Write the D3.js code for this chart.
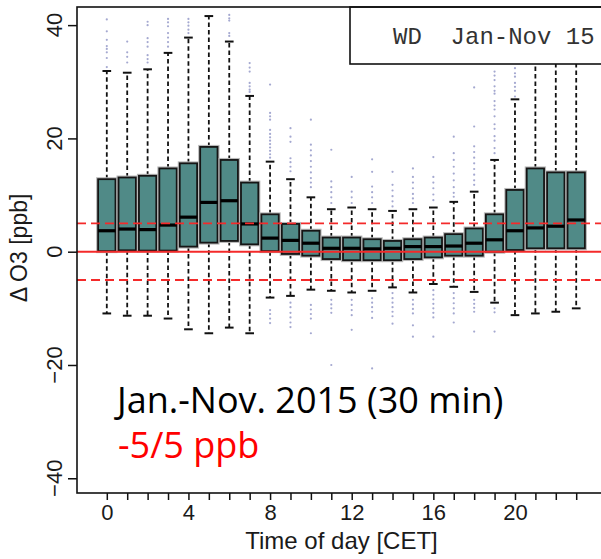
<!DOCTYPE html>
<html>
<head>
<meta charset="utf-8">
<script src="https://cdn.jsdelivr.net/npm/d3@7/dist/d3.min.js"></script>
<style>
  html, body { margin: 0; padding: 0; background: #fff; }
  svg { display: block; }
</style>
</head>
<body>
<svg id="chart" width="601" height="559"></svg>
<script>
// Diurnal distribution of ΔO3 (weekdays, Jan–Nov 2015), one box per hour
const hours = [0,1,2,3,4,5,6,7,8,9,10,11,12,13,14,15,16,17,18,19,20,21,22,23];
const whiskerLow  = [-10.9,-11.3,-11.3,-11.8,-13.7,-14.4,-13.4,-14.4,-8.1,-7.8,-6.7,-6.9,-7.2,-6.9,-6.3,-7.2,-5.7,-6.2,-7.1,-9.0,-11.2,-10.9,-10.6,-10.0];
const q1          = [0.1,0.25,0.2,0.2,0.9,1.6,1.9,1.3,0.1,-0.4,-0.7,-1.3,-1.5,-1.5,-1.5,-1.3,-1.0,-0.7,-0.7,0.0,0.3,0.6,0.6,0.6];
const median      = [3.7,4.0,3.9,4.7,6.1,8.7,9.0,4.9,2.4,2.0,1.5,0.6,0.6,0.5,0.6,0.9,0.9,1.0,1.5,2.1,3.7,4.2,4.5,5.6];
const q3          = [12.8,13.1,13.4,14.7,15.6,18.5,16.2,12.2,6.6,4.9,3.7,2.5,2.5,2.2,1.9,2.2,2.5,3.1,4.1,6.6,10.9,14.7,14.0,14.0];
const whiskerHigh = [31.9,31.6,32.2,35.1,37.8,41.6,37.1,27.5,15.9,12.8,9.6,7.5,7.8,7.5,7.2,7.5,7.8,8.8,10.6,16.2,26.9,36.0,35.0,34.0];
const outliers = [
  [41.0,38.9,37.4,36.3,35.8,35.2,34.2,32.6],
  [37.1,35.2,34.4,33.4],
  [40.6,40.0,37.7,37.0,36.2,34.7,34.0,33.4],
  [41.1,40.5,39.8,38.6,37.8,37.0,36.2],
  [41.1,40.5,39.9,39.2,38.6],
  [],
  [41.8,41.2,40.8,38.6,38.1],
  [33.3,32.5,31.8,29.8,29.2,28.6,28.2],
  [29.5,24.5,23.9,23.3,21.5,20.8,20.2,19.6,19.0,18.4,17.8,17.2,16.6,-10.3,-11.0,-11.8,-12.6],
  [21.8,20.3,19.4,16.5,15.8,15.0,14.2,-9.0,-9.8,-10.8,-11.6,-12.5,-13.3],
  [23.3,18.9,17.9,17.0,16.0,15.0,14.0,13.0,12.2,11.4,-9.4,-10.2,-11.0,-11.8,-14.4],
  [18.0,12.4,11.4,10.5,9.6,8.6,-8.5,-9.3,-10.0,-10.8,-20.0],
  [13.2,10.6,9.6,8.6,-8.5,-9.4,-10.3,-11.2,-13.8],
  [16.3,14.1,11.5,10.5,9.6,8.6,-8.2,-9.0,-9.8,-10.6,-11.7,-20.6],
  [14.1,11.8,10.8,9.8,8.9,8.0,-7.3,-8.2,-9.0,-9.8,-10.6,-11.4,-12.7],
  [14.7,13.2,12.2,11.2,10.2,9.4,8.6,-8.5,-9.3,-10.1,-10.9,-13.0,-15.0],
  [16.7,13.2,12.2,11.2,10.1,9.1,-6.8,-7.6,-8.4,-9.2,-10.0,-10.8,-11.6,-15.0],
  [20.3,17.4,16.2,15.0,13.8,12.6,11.4,10.4,9.7,-7.3,-8.2,-9.1,-10.0,-10.9,-12.5],
  [29.0,22.1,18.6,17.6,16.6,15.6,14.6,13.6,12.6,11.8,-8.5,-9.2,-9.9,-10.6,-14.1],
  [31.8,31.1,30.3,29.2,28.4,27.9,26.6,25.8,25.1,23.9,22.5,21.7,20.4,19.6,18.3,17.4,-10.0,-10.7,-14.1],
  [32.4,31.5,30.9,29.8,29.1,28.4,27.4],
  [],
  [],
  []
];
const yTicks = [-40,-20,0,20,40];
const xLabelled = [0,4,8,12,16,20];
const refLines = [-5,0,5];
const legendText = "WD  Jan-Nov 15";
const noteMain = "Jan.-Nov. 2015 (30 min)";
const noteBand = "-5/5 ppb";

(function draw() {
  const svg = d3.select("#chart");
  const pl = 77, pr = 606, pt = 7, pb = 493;

  const x = d3.scaleLinear().domain([-1.46, 24.46]).range([pl, pr]);
  const y = d3.scaleLinear().domain([-42.6, 43.2]).range([pb, pt]);
  const step = x(1) - x(0);
  const boxW = step * 0.85;
  const capW = boxW * 0.5;

  const rows = hours.map((h, i) => ({
    h, lo: whiskerLow[i], q1: q1[i], med: median[i], q3: q3[i], hi: whiskerHigh[i], out: outliers[i]
  }));

  const plot = svg.append("g");

  // whiskers (dashed) and staples
  const wg = plot.append("g").attr("stroke", "#111").attr("stroke-width", 1.8);
  rows.forEach(d => {
    const cx = x(d.h);
    wg.append("line").attr("x1", cx).attr("x2", cx).attr("y1", y(d.q3)).attr("y2", y(d.hi))
      .attr("stroke-dasharray", "4.5,3");
    wg.append("line").attr("x1", cx).attr("x2", cx).attr("y1", y(d.q1)).attr("y2", y(d.lo))
      .attr("stroke-dasharray", "4.5,3");
    wg.append("line").attr("x1", cx - capW / 2).attr("x2", cx + capW / 2).attr("y1", y(d.hi)).attr("y2", y(d.hi)).attr("stroke-width", 2);
    wg.append("line").attr("x1", cx - capW / 2).attr("x2", cx + capW / 2).attr("y1", y(d.lo)).attr("y2", y(d.lo)).attr("stroke-width", 2);
  });

  // outlying points
  const og = plot.append("g");
  rows.forEach(d => {
    og.selectAll(null).data(d.out).enter().append("circle")
      .attr("cx", x(d.h)).attr("cy", v => y(v)).attr("r", 1.1)
      .attr("fill", "#8d92c4").attr("opacity", 0.8);
  });

  // boxes
  const bg = plot.append("g");
  rows.forEach(d => {
    const cx = x(d.h);
    bg.append("rect").attr("x", cx - boxW / 2).attr("y", y(d.q3)).attr("width", boxW)
      .attr("height", y(d.q1) - y(d.q3)).attr("fill", "none").attr("stroke", "#b8b8b8").attr("stroke-width", 4);
    bg.append("rect").attr("x", cx - boxW / 2).attr("y", y(d.q3)).attr("width", boxW)
      .attr("height", y(d.q1) - y(d.q3)).attr("fill", "#508a87").attr("stroke", "#151515").attr("stroke-width", 1.8);
    bg.append("line").attr("x1", cx - boxW / 2).attr("x2", cx + boxW / 2).attr("y1", y(d.med)).attr("y2", y(d.med))
      .attr("stroke", "#000").attr("stroke-width", 3.2);
  });

  // reference lines at 0 and ±5 ppb
  plot.append("g").selectAll("line").data(refLines).enter().append("line")
    .attr("x1", pl).attr("x2", pr).attr("y1", d => y(d)).attr("y2", d => y(d))
    .attr("stroke", "#f42a2a").attr("stroke-width", d => d === 0 ? 2 : 1.8)
    .attr("stroke-dasharray", d => d === 0 ? null : "9,5");

  // legend box
  svg.append("rect").attr("x", 350).attr("y", pt).attr("width", 280).attr("height", 57)
    .attr("fill", "#fff").attr("stroke", "#111").attr("stroke-width", 1.6);
  svg.append("text").attr("x", 393).attr("y", 44)
    .style("white-space", "pre")
    .attr("font-family", "'Liberation Mono', 'DejaVu Sans Mono', monospace").attr("font-size", 24)
    .attr("fill", "#333").text(legendText);

  // frame
  svg.append("rect").attr("x", pl).attr("y", pt).attr("width", pr - pl).attr("height", pb - pt)
    .attr("fill", "none").attr("stroke", "#111").attr("stroke-width", 1.6);

  const font = "'Liberation Sans', Arial, sans-serif";

  // y axis
  const yAxis = svg.append("g").attr("transform", `translate(${pl},0)`)
    .call(d3.axisLeft(y).tickValues(yTicks).tickSize(9).tickFormat(""));
  yAxis.select(".domain").remove();
  yAxis.selectAll("line").attr("stroke", "#111").attr("stroke-width", 1.5);
  svg.append("g").selectAll("text").data(yTicks).enter().append("text")
    .attr("transform", d => `translate(62,${y(d)}) rotate(-90)`)
    .attr("text-anchor", "middle").attr("font-family", font).attr("font-size", 22).attr("fill", "#1a1a1a")
    .text(d => d < 0 ? "\u2212" + Math.abs(d) : d);

  // x axis
  const xAxis = svg.append("g").attr("transform", `translate(0,${pb})`)
    .call(d3.axisBottom(x).tickValues(hours).tickSize(7).tickPadding(4)
      .tickFormat(d => xLabelled.includes(d) ? d : ""));
  xAxis.select(".domain").remove();
  xAxis.selectAll("line").attr("stroke", "#111").attr("stroke-width", 1.5);
  xAxis.selectAll("text").attr("font-family", font).attr("font-size", 22).attr("fill", "#1a1a1a");

  // axis titles
  svg.append("text").attr("x", (pl + pr) / 2).attr("y", 549).attr("text-anchor", "middle")
    .attr("font-family", font).attr("font-size", 24).attr("fill", "#1a1a1a").text("Time of day [CET]");
  svg.append("text").attr("transform", "translate(27,248) rotate(-90)").attr("text-anchor", "middle")
    .attr("font-family", font).attr("font-size", 23).attr("fill", "#1a1a1a").text("\u0394 O3 [ppb]");

  // annotations
  svg.append("text").attr("x", 117).attr("y", 413).attr("font-family", "'Open Sans', 'Noto Sans', sans-serif")
    .attr("font-size", 36).attr("fill", "#000").text(noteMain);
  svg.append("text").attr("x", 118).attr("y", 458).attr("font-family", "'Open Sans', 'Noto Sans', sans-serif")
    .attr("font-size", 36).attr("fill", "#ff0000").text(noteBand);
})();
</script>
</body>
</html>
